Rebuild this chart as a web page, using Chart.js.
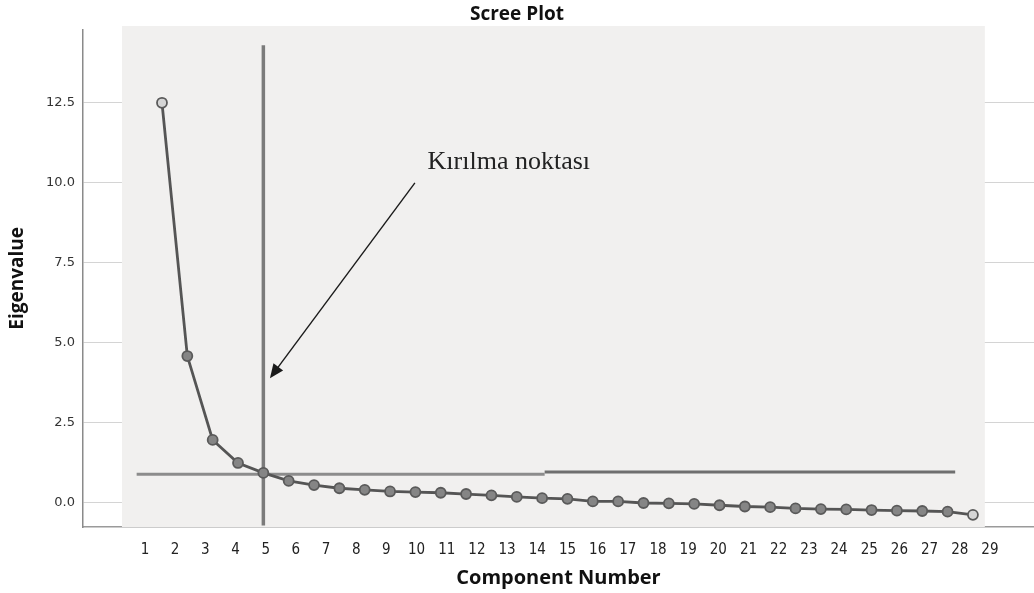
<!DOCTYPE html>
<html>
<head>
<meta charset="utf-8">
<script src="https://cdn.jsdelivr.net/npm/chart.js@4.4.1/dist/chart.umd.min.js"></script>
<style>
  html, body { margin: 0; padding: 0; background: #fff; }
  #wrap { width: 1034px; height: 593px; }
</style>
</head>
<body>
<div id="wrap"><canvas id="screeChart"></canvas></div>
<script>
// points as drawn on the plot (33 of them)
const components = [1, 2, 3, 4, 5, 6, 7, 8, 9, 10, 11, 12, 13, 14, 15, 16, 17,
  18, 19, 20, 21, 22, 23, 24, 25, 26, 27, 28, 29, 30, 31, 32, 33];
const eigenvalues = [12.5, 4.59, 1.97, 1.25, 0.94, 0.69, 0.56, 0.46, 0.41, 0.36, 0.34,
  0.32, 0.28, 0.24, 0.19, 0.15, 0.13, 0.05, 0.05, 0.0, -0.01, -0.03, -0.07, -0.11,
  -0.13, -0.17, -0.19, -0.2, -0.22, -0.24, -0.25, -0.27, -0.37];

// labels printed under the axis (they do not line up with the points)
const tickLabels = [1, 2, 3, 4, 5, 6, 7, 8, 9, 10, 11, 12, 13, 14, 15, 16, 17, 18, 19,
  20, 21, 22, 23, 24, 25, 26, 27, 28, 29];
const yTicks = [0, 2.5, 5, 7.5, 10, 12.5];

// break point marker and the eigenvalue ~1 line
const breakComponent = 5;
const breakSpan = [-0.7, 14.3];
const eigenLineLeft = [0.0, 16.1, 0.9];
const eigenLineRight = [16.1, 32.3, 0.97];

const annotationText = 'Kırılma noktası';

document.addEventListener('DOMContentLoaded', () => {

  const grey = '#f1f0ef';

  const backdrop = {
    id: 'backdrop',
    beforeDatasetsDraw(chart) {
      const { ctx, chartArea, scales: { x, y } } = chart;
      const left = x.getPixelForValue(-0.58);
      const right = x.getPixelForValue(33.47);
      const top = y.getPixelForValue(14.9);
      ctx.save();
      ctx.fillStyle = grey;
      ctx.fillRect(left, top, right - left, chartArea.bottom - top);
      ctx.restore();
    },
    afterDatasetsDraw(chart) {
      const { ctx, scales: { x, y } } = chart;
      // arrow pointing at the break
      const x0 = x.getPixelForValue(10.98), y0 = y.getPixelForValue(10.0);
      const x1 = x.getPixelForValue(5.26), y1 = y.getPixelForValue(3.9);
      const ang = Math.atan2(y1 - y0, x1 - x0);
      ctx.save();
      ctx.strokeStyle = '#1a1a1a';
      ctx.fillStyle = '#1a1a1a';
      ctx.lineWidth = 1.4;
      ctx.beginPath();
      ctx.moveTo(x0, y0);
      ctx.lineTo(x1 - 10 * Math.cos(ang), y1 - 10 * Math.sin(ang));
      ctx.stroke();
      ctx.beginPath();
      ctx.moveTo(x1, y1);
      ctx.lineTo(x1 - 14 * Math.cos(ang) + 6 * Math.sin(ang), y1 - 14 * Math.sin(ang) - 6 * Math.cos(ang));
      ctx.lineTo(x1 - 14 * Math.cos(ang) - 6 * Math.sin(ang), y1 - 14 * Math.sin(ang) + 6 * Math.cos(ang));
      ctx.closePath();
      ctx.fill();

      ctx.font = '26px "Liberation Serif", "Times New Roman", serif';
      ctx.fillStyle = '#222';
      ctx.textBaseline = 'alphabetic';
      ctx.fillText(annotationText, x.getPixelForValue(11.48), y.getPixelForValue(10.44));
      ctx.restore();
    }
  };

  const ctx = document.getElementById('screeChart').getContext('2d');

  const chart = new Chart(ctx, {
    type: 'line',
    data: {
      datasets: [{
        label: 'Eigenvalue',
        data: components.map((c, i) => ({ x: c, y: eigenvalues[i] })),
        borderColor: '#555',
        borderWidth: 2.8,
        pointRadius: 5,
        pointBorderWidth: 1.8,
        pointBackgroundColor: c => (c.dataIndex === 0 || c.dataIndex === components.length - 1) ? '#d5d5d5' : '#858585',
        pointBorderColor: '#5a5a5a',
        tension: 0
      }, {
        label: 'break',
        data: breakSpan.map(v => ({ x: breakComponent, y: v })),
        borderColor: '#7b7b7b',
        borderWidth: 3.5,
        pointRadius: 0
      }, {
        label: 'eigen left',
        data: [{ x: eigenLineLeft[0], y: eigenLineLeft[2] }, { x: eigenLineLeft[1], y: eigenLineLeft[2] }],
        borderColor: '#8c8c8c',
        borderWidth: 3,
        pointRadius: 0
      }, {
        label: 'eigen right',
        data: [{ x: eigenLineRight[0], y: eigenLineRight[2] }, { x: eigenLineRight[1], y: eigenLineRight[2] }],
        borderColor: '#6f6f6f',
        borderWidth: 3,
        pointRadius: 0
      }]
    },
    options: {
      responsive: true,
      maintainAspectRatio: false,
      animation: false,
      layout: { padding: 0, autoPadding: false },
      plugins: {
        legend: { display: false },
        tooltip: { enabled: false },
        title: {
          display: true,
          text: 'Scree Plot',
          color: '#111',
          font: { family: '"Open Sans", sans-serif', size: 19, weight: 'bold' },
          padding: { top: 3, bottom: 4 }
        }
      },
      scales: {
        x: {
          type: 'linear',
          display: false,
          min: -2.117,
          max: 35.41
        },
        x2: {
          type: 'linear',
          position: 'bottom',
          min: -1.054,
          max: 30.46,
          z: 1,
          afterBuildTicks: s => { s.ticks = tickLabels.map(v => ({ value: v })); },
          afterFit: s => { s.height = 66; s.paddingLeft = 0; s.paddingRight = 0; },
          grid: { display: false },
          border: { color: '#9a9a9a', width: 1.5 },
          ticks: {
            padding: 6,
            maxRotation: 0,
            autoSkip: false,
            color: '#222',
            font: { family: '"Liberation Sans Narrow", "DejaVu Sans Condensed", sans-serif', size: 15 }
          },
          title: {
            display: true,
            text: 'Component Number',
            color: '#111',
            font: { family: '"Open Sans", sans-serif', size: 20, weight: 'bold' },
            padding: { top: 0, bottom: 3 }
          }
        },
        y: {
          min: -0.75,
          max: 14.78,
          afterBuildTicks: s => { s.ticks = yTicks.map(v => ({ value: v })); },
          afterFit: s => { s.width = 83; },
          grid: { color: '#d4d4d4', drawTicks: false },
          border: { color: '#8a8a8a', width: 1.5 },
          ticks: {
            padding: 8,
            color: '#333',
            callback: v => v.toFixed(1),
            font: { family: '"DejaVu Sans", sans-serif', size: 13 }
          },
          title: {
            display: true,
            text: 'Eigenvalue',
            color: '#111',
            font: { family: '"Open Sans", sans-serif', size: 19, weight: 'bold' },
            padding: { top: 6, bottom: 0 }
          }
        }
      }
    },
    plugins: [backdrop]
  });

});
</script>
</body>
</html>
